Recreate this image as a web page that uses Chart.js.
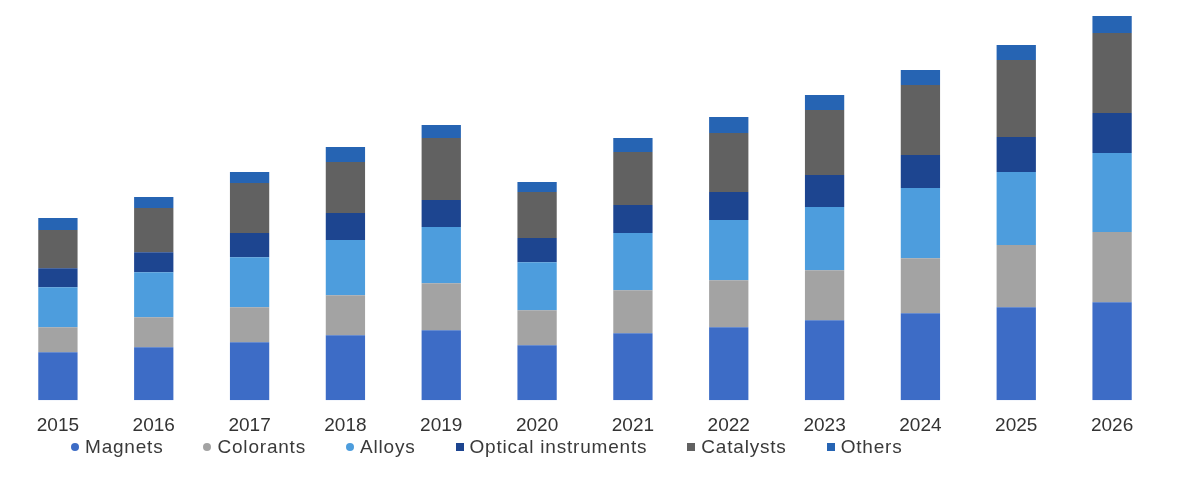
<!DOCTYPE html>
<html>
<head>
<meta charset="utf-8">
<script src="https://cdn.jsdelivr.net/npm/chart.js@4.4.1/dist/chart.umd.min.js"></script>
<style>
  html, body { margin: 0; padding: 0; background: #fff; }
  #wrap { position: relative; width: 1181px; height: 486px; }
  #legend {
    position: absolute; left: 71px; top: 436px;
    display: flex; align-items: center; gap: 40px;
    font-family: Arial, "Liberation Sans", sans-serif; font-size: 19px; letter-spacing: 0.8px; color: #3a3a3a;
  }
  #legend span.item { display: flex; align-items: center; }
  #legend i { display: inline-block; width: 8px; height: 8px; margin-right: 6px; }
</style>
</head>
<body>
<div id="wrap">
  <canvas id="chart" width="1181" height="486"></canvas>
  <div id="legend"></div>
</div>
<script>
// years on the x axis
let years = ['2015', '2016', '2017', '2018', '2019', '2020', '2021', '2022', '2023', '2024', '2025', '2026']

// segment values (relative units)
let magnets = [48, 53, 58, 65, 70, 55, 67, 73, 80, 87, 93, 98]
let colorants = [25, 30, 35, 40, 47, 35, 43, 47, 50, 55, 62, 70]
let alloys = [40, 45, 50, 55, 56, 48, 57, 60, 63, 70, 73, 79]
let optical = [19, 20, 24, 27, 27, 24, 28, 28, 32, 33, 35, 40]
let catalysts = [38, 44, 50, 51, 62, 46, 53, 59, 65, 70, 77, 80]
let others = [12, 11, 11, 15, 13, 10, 14, 16, 15, 15, 15, 17]

function ds(label, values, color, shape) {
    return {
        label: label,
        data: values,
        backgroundColor: color,
        borderWidth: 0,
        pointStyle: shape,
        barPercentage: 0.41,
        categoryPercentage: 1
    }
}

const data = {
    labels: years,
    datasets: [
        ds('Magnets', magnets, '#3d6cc6', 'circle'),
        ds('Colorants', colorants, '#a3a3a3', 'circle'),
        ds('Alloys', alloys, '#4d9ddd', 'circle'),
        ds('Optical instruments', optical, '#1d4590', 'rect'),
        ds('Catalysts', catalysts, '#616161', 'rect'),
        ds('Others', others, '#2664b3', 'rect')
    ]
}

const config = {
    type: 'bar',
    data: data,
    options: {
        responsive: false,
        animation: false,
        layout: {
            padding: { left: 10, right: 21, top: 0, bottom: 35 }
        },
        plugins: {
            legend: { display: false },
            tooltip: { enabled: false }
        },
        scales: {
            x: {
                stacked: true,
                grid: { display: false, drawTicks: false },
                border: { display: false },
                ticks: {
                    color: '#333',
                    padding: 14,
                    font: { family: 'Arial, "Liberation Sans", sans-serif', size: 19 }
                }
            },
            y: {
                stacked: true,
                display: false,
                min: 0,
                max: 400
            }
        }
    }
}

let myChart = new Chart(document.getElementById('chart'), config)

// html legend built from the datasets
let legend = document.getElementById('legend')
myChart.data.datasets.forEach(d => {
    let item = document.createElement('span')
    item.className = 'item'
    let mark = document.createElement('i')
    mark.style.background = d.backgroundColor
    if (d.pointStyle === 'circle') mark.style.borderRadius = '50%'
    item.appendChild(mark)
    item.appendChild(document.createTextNode(d.label))
    legend.appendChild(item)
})
</script>
</body>
</html>
